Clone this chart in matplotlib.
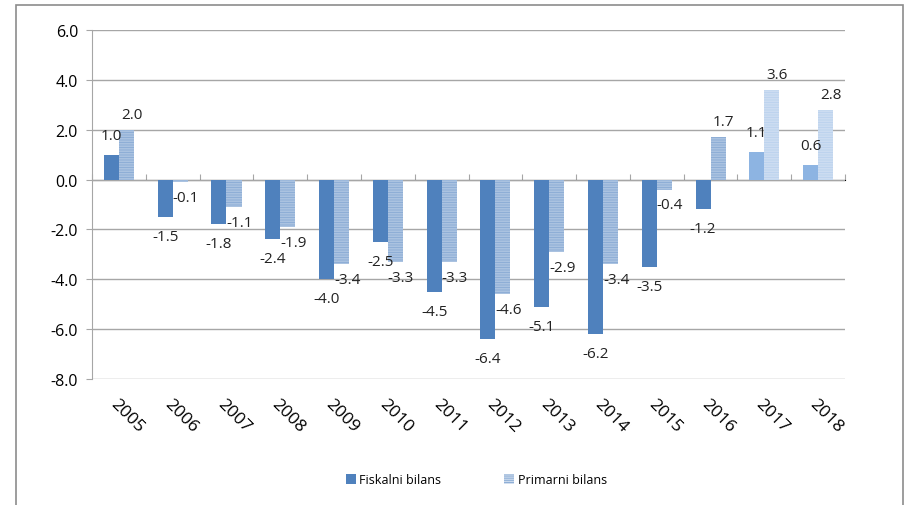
import numpy as np
import matplotlib.pyplot as plt
from matplotlib.patches import Rectangle, Patch
from matplotlib.transforms import ScaledTranslation

plt.rcParams['font.family'] = ['Open Sans', 'DejaVu Sans']
plt.rcParams['hatch.linewidth'] = 1.0

# podaci
godine = ['2005', '2006', '2007', '2008', '2009', '2010', '2011',
          '2012', '2013', '2014', '2015', '2016', '2017', '2018']
fiskalni = [1.0, -1.5, -1.8, -2.4, -4.0, -2.5, -4.5, -6.4, -5.1, -6.2, -3.5, -1.2, 1.1, 0.6]
primarni = [2.0, -0.1, -1.1, -1.9, -3.4, -3.3, -3.3, -4.6, -2.9, -3.4, -0.4, 1.7, 3.6, 2.8]
projekcija = ['2017', '2018']

fig = plt.figure(figsize=(9.07, 5.06), dpi=100)
ax = fig.add_axes([0.1014, 0.249, 0.8303, 0.6897])

x = np.arange(len(godine))
w = 0.28
boja_f = ['#8DB4E2' if g in projekcija else '#4F81BD' for g in godine]
boja_p = ['#BDD3EE' if g in projekcija else '#8EAED6' for g in godine]

ax.bar(x - w / 2, fiskalni, w, color=boja_f, linewidth=0, zorder=3)
for i in range(len(godine)):
    ax.bar(x[i] + w / 2, primarni[i], w, facecolor='#F4F7FB', edgecolor=boja_p[i],
           hatch='-' * 10, linewidth=0, zorder=3)

# oznake vrijednosti
for i in range(len(godine)):
    s = 1 if fiskalni[i] >= 0 else -1
    ax.annotate(f'{fiskalni[i]:.1f}', (x[i] - w / 2, fiskalni[i]), xytext=(0, 14 * s),
                textcoords='offset points', ha='center', va='center', fontsize=11, color='#222222', zorder=4)
    s = 1 if primarni[i] >= 0 else -1
    ax.annotate(f'{primarni[i]:.1f}', (x[i] + w / 2, primarni[i]), xytext=(4, 11 * s),
                textcoords='offset points', ha='center', va='center', fontsize=11, color='#222222', zorder=4)

ax.set_xlim(-0.5, len(godine) - 0.5)
ax.set_ylim(-8, 6)
ax.set_yticks(np.arange(-8, 7, 2))
ax.set_yticklabels([f'{v:.1f}' for v in np.arange(-8, 7, 2)], fontsize=11.5)
ax.grid(axis='y', color='#A6A6A6', linewidth=1.0, zorder=0)
ax.tick_params(axis='y', length=4, color='#A6A6A6', pad=6)

for sp in ['top', 'right', 'bottom']:
    ax.spines[sp].set_visible(False)
ax.spines['left'].set_color('#A6A6A6')

ax.set_xticks(x)
ax.set_xticklabels(godine, rotation=-45, ha='center', fontsize=12.5)
ax.tick_params(axis='x', length=0, pad=12)
for lab in ax.get_xticklabels():
    lab.set_transform(lab.get_transform() + ScaledTranslation(8 / 100, 0, fig.dpi_scale_trans))

# os na nuli s kvačicama između kategorija
sec = ax.secondary_xaxis(8 / 14)
sec.set_xticks(np.arange(-0.5, len(godine), 1))
sec.set_xticklabels([])
sec.tick_params(length=4, color='#A6A6A6')
sec.spines['bottom'].set_color('#A6A6A6')

ruke = [Patch(facecolor='#4F81BD', linewidth=0, label='Fiskalni bilans'),
        Patch(facecolor='#F4F7FB', edgecolor='#8EAED6', hatch='-' * 8, linewidth=0, label='Primarni bilans')]
fig.legend(handles=ruke, loc='center', bbox_to_anchor=(0.525, 0.05), ncol=2, frameon=False,
           fontsize=9, handlelength=0.8, handleheight=0.8, handletextpad=0.3, columnspacing=5.0)

fig.patches.append(Rectangle((16 / 907, -0.1), 887 / 907, 1.1 - 6 / 506, transform=fig.transFigure,
                             fill=False, edgecolor='#8C8C8C', linewidth=1.2))

plt.savefig('out.png', dpi=100)
